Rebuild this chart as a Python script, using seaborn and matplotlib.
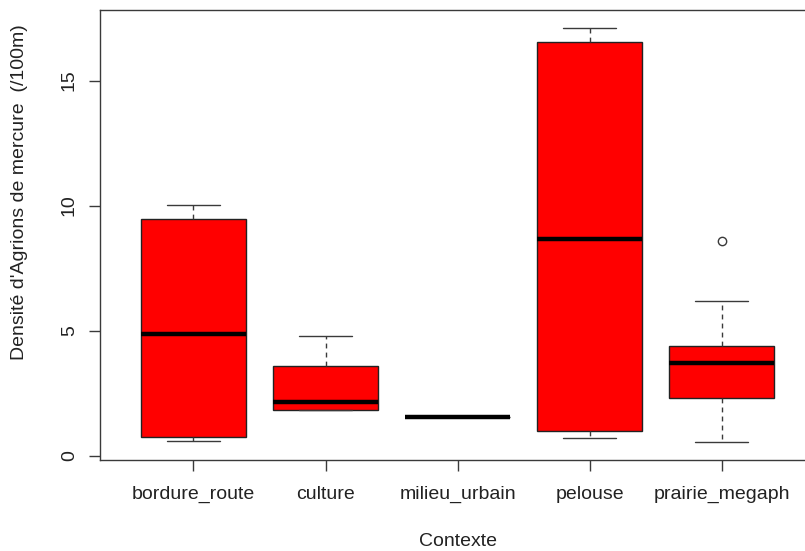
import matplotlib
matplotlib.use("Agg")
import matplotlib.pyplot as plt
import seaborn as sns
import pandas as pd

# Observed densities per habitat context (individuals per 100 m)
contextes = ["bordure_route", "culture", "milieu_urbain", "pelouse", "prairie_megaph"]
bordure_route = [0.59, 0.73, 4.87, 9.45, 10.02]
culture = [1.82, 1.82, 2.15, 3.60, 4.78]
milieu_urbain = [1.53]
pelouse = [0.69, 0.98, 8.66, 16.53, 17.11]
prairie_megaph = [0.53, 2.29, 2.29, 3.70, 3.70, 4.38, 4.38, 6.18, 8.57]

y_ticks = [0, 5, 10, 15]
y_label = "Densité d'Agrions de mercure  (/100m)"
x_label = "Contexte"

groups = [bordure_route, culture, milieu_urbain, pelouse, prairie_megaph]
df = pd.DataFrame({
    "Contexte": [c for c, vals in zip(contextes, groups) for _ in vals],
    "densite": [v for vals in groups for v in vals],
})

sns.set_style("white")
plt.rcParams["font.family"] = ["Liberation Sans", "DejaVu Sans"]

line_col = "#3a3a3a"
text_col = "#222222"

fig = plt.figure(figsize=(8.05, 5.51), dpi=100)
ax = fig.add_axes([100 / 805, 91.5 / 551, 714 / 805, 449.5 / 551])

sns.boxplot(
    data=df, x="Contexte", y="densite", order=contextes,
    color="#FF0000", saturation=1, linecolor="#222222", linewidth=1.0,
    width=0.8, whis=1.5, fliersize=6, ax=ax,
    medianprops=dict(color="black", linewidth=3.2, solid_capstyle="butt"),
    whiskerprops=dict(color=line_col, linewidth=1.0, linestyle=(0, (3.5, 3))),
    capprops=dict(color=line_col, linewidth=1.0),
    flierprops=dict(marker="o", markerfacecolor="none",
                    markeredgecolor=line_col, markeredgewidth=1.0),
)

ax.set_xlim(-0.708, 4.70)
ax.set_ylim(-0.16, 17.82)

for side in ["left", "right", "top", "bottom"]:
    ax.spines[side].set_visible(True)
    ax.spines[side].set_color(line_col)
    ax.spines[side].set_linewidth(1.0)

ax.set_yticks(y_ticks)
ax.set_yticklabels([str(t) for t in y_ticks], rotation=90, va="center")
ax.set_xticks(range(len(contextes)))
ax.set_xticklabels(contextes)

ax.tick_params(axis="both", direction="out", length=8, width=1.0,
               color=line_col, labelcolor=text_col, labelsize=14,
               bottom=True, left=True, top=False, right=False)
ax.tick_params(axis="x", pad=11)
ax.tick_params(axis="y", pad=8)

ax.set_xlabel(x_label, fontsize=14, color=text_col)
ax.set_ylabel(y_label, fontsize=14, color=text_col)
ax.xaxis.set_label_coords((458 - 100) / 714, -(541 - 459.5) / 449.5)
ax.xaxis.label.set_va("center")
ax.yaxis.set_label_coords((20 - 100) / 714, (459.5 - 192) / 449.5)
ax.yaxis.label.set_va("center")

fig.savefig("out.png", dpi=100)
